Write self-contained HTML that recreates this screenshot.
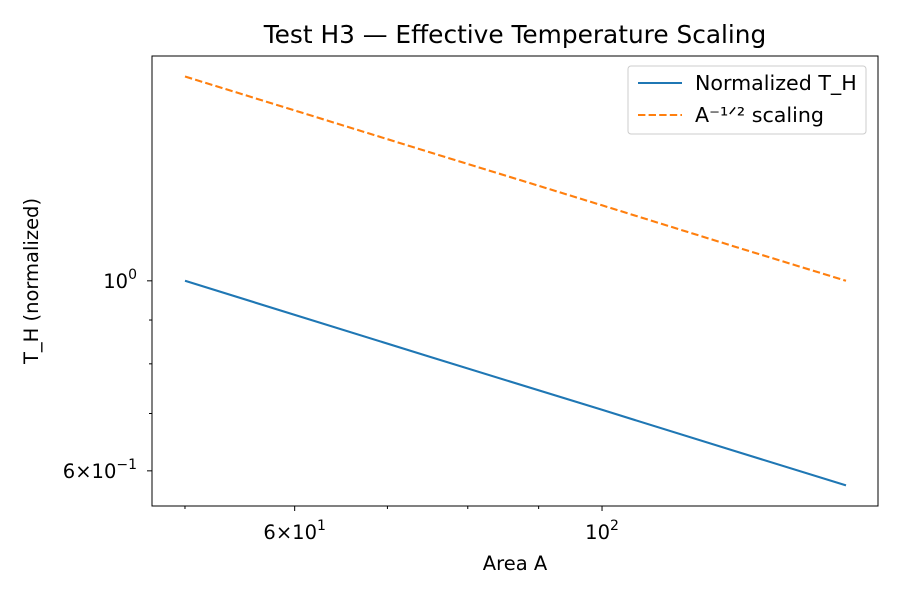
<!DOCTYPE html>
<html><head><meta charset="utf-8"><style>
body{margin:0;background:#fff;font-family:"Liberation Sans","DejaVu Sans",sans-serif;}
svg text{font-family:"DejaVu Sans","Liberation Sans",sans-serif;fill:#000}
</style></head><body>
<svg id="chart" width="900" height="600" xmlns="http://www.w3.org/2000/svg">
<rect width="900" height="600" fill="#fff"/>
<text x="515" y="43" font-size="24.8" text-anchor="middle">Test H3 — Effective Temperature Scaling</text>
<g id="marks"></g>
<g id="axes"></g>
<rect x="152" y="56" width="726" height="450" fill="none" stroke="#000" stroke-width="1"/>
<text x="515" y="570" font-size="19.5" text-anchor="middle">Area A</text>
<text transform="translate(38,281) rotate(-90)" font-size="19.5" text-anchor="middle">T_H (normalized)</text>
<g>
<rect x="628" y="66" width="238" height="68" rx="3" fill="#fff" stroke="#ccc"/>
<line x1="638" y1="83" x2="682" y2="83" stroke="#1f77b4" stroke-width="2"/>
<text x="695" y="90" font-size="20.6">Normalized T_H</text>
<line x1="638" y1="115" x2="682" y2="115" stroke="#ff7f0e" stroke-width="2" stroke-dasharray="7.4,3.2"/>
<text x="695" y="122" font-size="20.6">A⁻¹ᐟ² scaling</text>
</g>
</svg>
<script>
const areas=[50,75,100,125,150];
const normalizedTH=[1.0,0.816,0.707,0.632,0.577];
const scalingTH=[1.732,1.414,1.225,1.095,1.0];
const xMajor=[60,100];
const xMajorLabels=["6","10"];
const xMajorExp=["1","2"];
const xMinor=[50,70,80,90];
const yMajor=[0.6,1.0];
const yMajorLabels=["6","10"];
const yMajorExp=["−1","0"];
const yMinor=[0.7,0.8,0.9];

const ns="http://www.w3.org/2000/svg";
const x0=152,x1=878,y0=56,y1=506;
const lxMin=Math.log10(50)-0.0238,lxMax=Math.log10(150)+0.0231;
const lyMax=0.2625,lyMin=lyMax-450/856.5;
const xs=v=>x0+(Math.log10(v)-lxMin)/(lxMax-lxMin)*(x1-x0);
const ys=v=>y0+(lyMax-Math.log10(v))/(lyMax-lyMin)*(y1-y0);
const marks=document.getElementById('marks'),axes=document.getElementById('axes');
function mk(t,a,p){const e=document.createElementNS(ns,t);for(const k in a)e.setAttribute(k,a[k]);p.appendChild(e);return e;}
function series(vals,color,dash,name){
 const pts=areas.map((a,i)=>xs(a).toFixed(1)+","+ys(vals[i]).toFixed(1)).join(" ");
 const e=mk('polyline',{points:pts,fill:'none',stroke:color,'stroke-width':2.1,'stroke-dasharray':dash},marks);
 
 
}
series(normalizedTH,'#1f77b4','none','normalized-th-line');
series(scalingTH,'#ff7f0e','7.4,3.2','scaling-line');
xMajor.forEach((v,i)=>{const x=xs(v);
 mk('line',{x1:x,x2:x,y1:y1,y2:y1+5,stroke:'#000'},axes);
 const t=mk('text',{x:x,y:y1+33,'font-size':19.5,'text-anchor':'middle'},axes);
 
 
 t.innerHTML=(xMajorLabels[i]==="10"?"10":xMajorLabels[i]+"×10")+'<tspan dy="-9" font-size="14">'+xMajorExp[i]+'</tspan>';
});
xMinor.forEach(v=>{const x=xs(v);mk('line',{x1:x,x2:x,y1:y1,y2:y1+3,stroke:'#000'},axes);});
yMajor.forEach((v,i)=>{const y=ys(v);
 mk('line',{x1:x0-5,x2:x0,y1:y,y2:y,stroke:'#000'},axes);
 const t=mk('text',{x:x0-15,y:y+7,'font-size':19.5,'text-anchor':'end'},axes);
 
 
 t.innerHTML=(yMajorLabels[i]==="10"?"10":yMajorLabels[i]+"×10")+'<tspan dy="-9" font-size="14">'+yMajorExp[i]+'</tspan>';
});
yMinor.forEach(v=>{const y=ys(v);mk('line',{x1:x0-3,x2:x0,y1:y,y2:y,stroke:'#000'},axes);});
</script>
</body></html>
